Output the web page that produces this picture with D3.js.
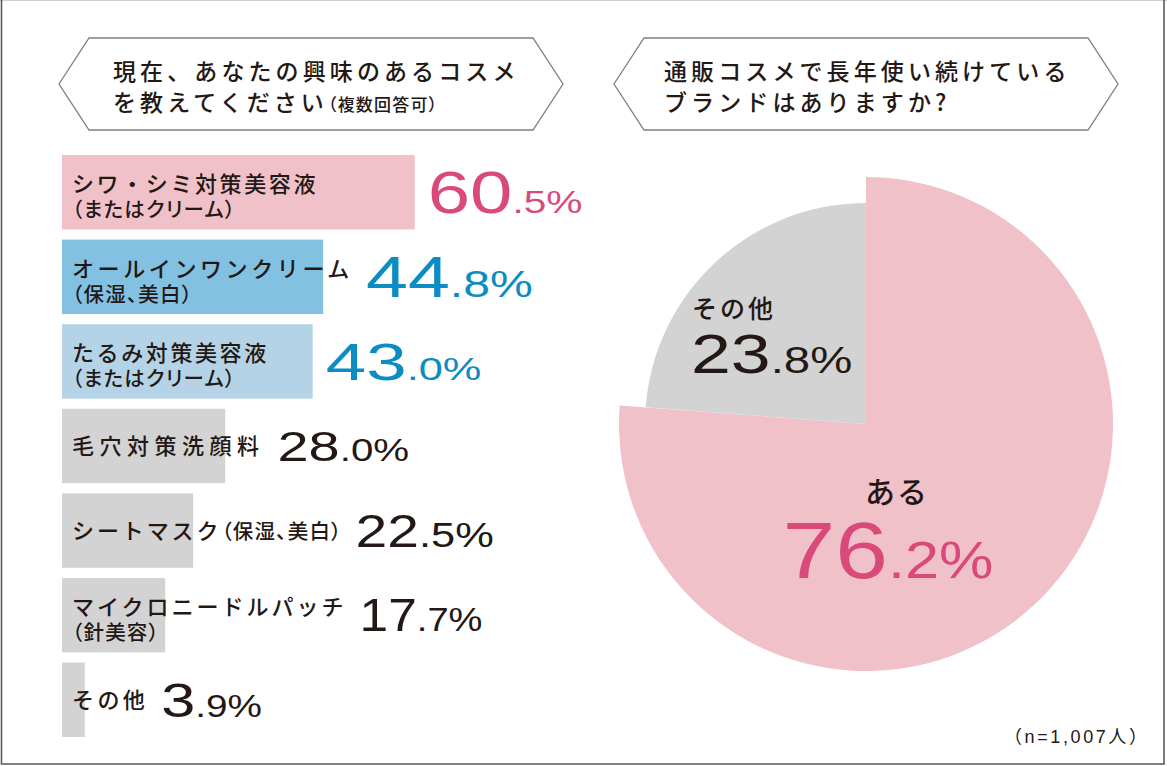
<!DOCTYPE html>
<html>
<head>
<meta charset="utf-8">
<script src="https://cdn.jsdelivr.net/npm/d3@7"></script>
<style>
  body { margin: 0; background: #fff; }
  svg { display: block; }
</style>
</head>
<body>
<div id="chart"></div>
<script>
// ---- data ----
const barLabels = [
  ['シワ・シミ対策美容液', '（またはクリーム）'],
  ['オールインワンクリーム', '（保湿、美白）'],
  ['たるみ対策美容液', '（またはクリーム）'],
  ['毛穴対策洗顔料'],
  ['シートマスク（保湿、美白）'],
  ['マイクロニードルパッチ', '（針美容）'],
  ['その他'],
];
const barValues = [60.5, 44.8, 43.0, 28.0, 22.5, 17.7, 3.9];

const pieLabels = ['ある', 'その他'];
const pieValues = [76.2, 23.8];

const barTitle = ['現在、あなたの興味のあるコスメ', 'を教えてください（複数回答可）'];
const pieTitle = ['通販コスメで長年使い続けている', 'ブランドはありますか?'];
const sampleNote = '（n=1,007人）';

// ---- styles ----
const JP = '"Noto Sans CJK JP", "Noto Sans", sans-serif';
const NUM = '"Liberation Sans", Arial, sans-serif';
const ink = '#231815';
const barFill = ['#f1c1c9', '#82c1e2', '#b5d3e6', '#d3d3d3', '#d3d3d3', '#d3d3d3', '#d3d3d3'];
const valueColor = ['#d94a7b', '#0b8cc2', '#0b8cc2', ink, ink, ink, ink];
// [big size, small size, horizontal stretch]
const valueFont = [[60, 32, 1.27], [58, 37, 1.3], [52, 31, 1.4], [43, 31, 1.3],
  [46, 35, 1.24], [46, 34, 1.12], [49, 31, 1.25]];
const labelSpacing = [2.6, 3.6, 2.6, 5.5, 2.9, 3.0, 3.4];

const width = 1167;
const height = 766;

const svg = d3.select('#chart')
  .append('svg')
  .attr('width', width)
  .attr('height', height);

// frame
svg.append('line').attr('x1', 0).attr('x2', width).attr('y1', 0.5).attr('y2', 0.5)
  .attr('stroke', '#cfcfcf').attr('stroke-width', 1);
svg.append('path')
  .attr('d', 'M1.5,0 V764 H1164 V0')
  .attr('fill', 'none')
  .attr('stroke', '#5a5a5a')
  .attr('stroke-width', 1.6);

// ---- number label: big integer part + small ".d%" ----
const drawValue = (g, value, x, y, big, small, color, anchor, sx) => {
  const [intPart, decPart] = d3.format('.1f')(value).split('.');
  const t = g.append('text')
    .attr('transform', `translate(${x},${y}) scale(${sx},1)`)
    .attr('text-anchor', anchor)
    .attr('fill', color)
    .attr('font-family', NUM);
  t.append('tspan').attr('font-size', big).text(intPart);
  t.append('tspan').attr('font-size', small).text(`.${decPart}%`);
  return t;
};

// ---- Japanese text block, one <text>, a tspan per line,
//      parenthetical parts set smaller ----
const drawJpText = (g, lines, x, y, lineHeight, size, spacing, parenSize) => {
  const t = g.append('text')
    .attr('fill', ink)
    .attr('font-family', JP)
    .attr('font-weight', 500)
    .attr('font-size', size);
  const widths = lines.map((str, i) => {
    const line = t.append('tspan').attr('x', x).attr('y', y + i * lineHeight);
    str.split(/(（.*?）)/).filter((s) => s.length).forEach((part) => {
      const isParen = part.startsWith('（');
      line.append('tspan')
        .attr('font-size', isParen ? parenSize : size)
        .attr('letter-spacing', isParen ? 1.2 : spacing)
        .style('font-feature-settings', isParen ? '"palt"' : 'normal')
        .text(part);
    });
    return line.node().getComputedTextLength();
  });
  return d3.max(widths);
};

// ---- title boxes ----
const drawTitle = (lines, x0, x1, textX) => {
  const top = 38;
  const bottom = 130;
  const mid = (top + bottom) / 2;
  const notch = 30;
  const g = svg.append('g');
  g.append('path')
    .attr('d', d3.line()([
      [x0, mid], [x0 + notch, top], [x1 - notch, top],
      [x1, mid], [x1 - notch, bottom], [x0 + notch, bottom],
    ]) + 'Z')
    .attr('fill', '#fff')
    .attr('stroke', '#7f7f7f')
    .attr('stroke-width', 1.3);
  drawJpText(g, lines, textX, 80, 31, 23, 4.1, 17);
};
drawTitle(barTitle, 59, 563, 113);
drawTitle(pieTitle, 614, 1118, 664);

// ---- bar chart ----
const x = d3.scaleLinear().domain([0, 100]).range([62, 645]);
const y = d3.scaleBand()
  .domain(d3.range(barValues.length))
  .range([155, 737])
  .paddingInner(0.12);

const bars = svg.append('g');
barValues.forEach((v, i) => {
  const g = bars.append('g');
  const top = y(i);
  const h = y.bandwidth();
  g.append('rect')
    .attr('x', x(0))
    .attr('y', top)
    .attr('width', x(v) - x(0))
    .attr('height', h)
    .attr('fill', barFill[i]);

  const lines = barLabels[i];
  const ly = lines.length === 1 ? top + h / 2 + 8 : top + 37;
  const labelW = drawJpText(g, lines, 72, ly, 25, 22, labelSpacing[i], 20.5);
  const labelEnd = 72 + labelW;

  const [big, small, sx] = valueFont[i];
  const vx = Math.max(x(v), labelEnd) + 13;
  drawValue(g, v, vx, top + h / 2 + big * 0.35, big, small, valueColor[i], 'start', sx);
});

// ---- pie chart ----
const cx = 866;
const cy = 424;
const pieFill = ['#f1c1c9', '#d3d3d3'];
const pieRadius = [247, 221];

const pie = d3.pie().sort(null).value((d) => d);
const arcs = pie(pieValues);

const pg = svg.append('g').attr('transform', `translate(${cx},${cy})`);
pg.selectAll('path')
  .data(arcs)
  .join('path')
  .attr('d', (d, i) => d3.arc().innerRadius(0).outerRadius(pieRadius[i])(d))
  .attr('fill', (d, i) => pieFill[i]);

// labels
pg.append('text')
  .attr('x', 31)
  .attr('y', 79)
  .attr('text-anchor', 'middle')
  .attr('font-family', JP)
  .attr('font-weight', 500)
  .attr('font-size', 30)
  .attr('letter-spacing', 2)
  .attr('fill', ink)
  .text(pieLabels[0]);
drawValue(pg, pieValues[0], 22, 154, 79, 51, '#d94a7b', 'middle', 1.2);

pg.append('text')
  .attr('x', -174)
  .attr('y', -106)
  .attr('font-family', JP)
  .attr('font-weight', 500)
  .attr('font-size', 25)
  .attr('letter-spacing', 3)
  .attr('fill', ink)
  .text(pieLabels[1]);
drawValue(pg, pieValues[1], -175, -51, 56, 37, ink, 'start', 1.28);

// sample size
svg.append('text')
  .attr('x', 1004)
  .attr('y', 743)
  .attr('font-family', `"Liberation Sans", ${JP}`)
  .attr('font-size', 18)
  .attr('letter-spacing', 2.6)
  .attr('fill', ink)
  .text(sampleNote);
</script>
</body>
</html>
